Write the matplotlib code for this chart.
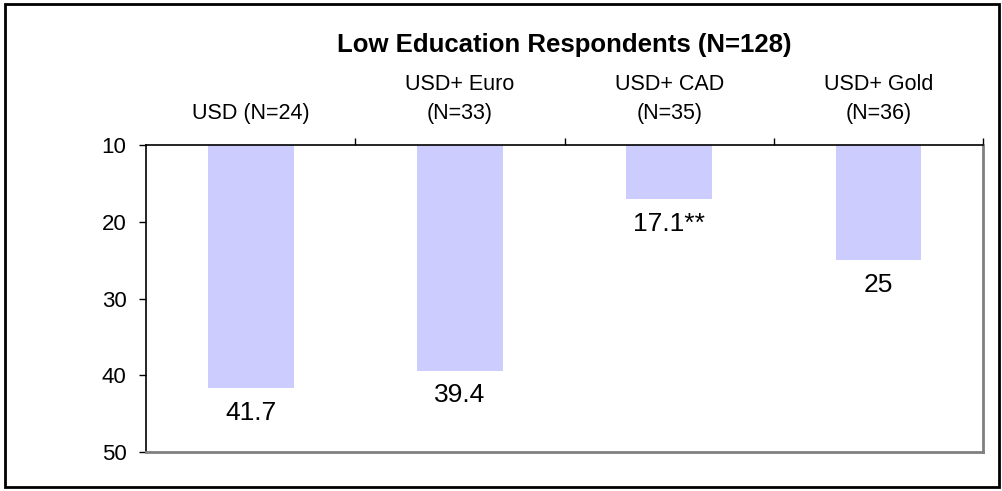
import numpy as np
import matplotlib.pyplot as plt
from matplotlib.patches import Rectangle

plt.rcParams['font.family'] = ['Liberation Sans', 'DejaVu Sans']

# Data
groups = ["USD (N=24)", "USD+ Euro\n(N=33)", "USD+ CAD\n(N=35)", "USD+ Gold\n(N=36)"]
values = [41.7, 39.4, 17.1, 25.0]
value_labels = ["41.7", "39.4", "17.1**", "25"]
base = 10
title = "Low Education Respondents (N=128)"

fig = plt.figure(figsize=(10.03, 4.91), dpi=100)
ax = fig.add_axes([0.1456, 0.0794, 0.8345, 0.6253])

x = np.arange(len(values))
heights = np.array(values) - base
ax.bar(x, heights, bottom=base, width=0.41, color="#CCCCFF", zorder=2)

# Value labels under each bar end
for xi, v, lab in zip(x, values, value_labels):
    ax.annotate(lab, (xi, v), xytext=(0, -9), textcoords="offset points",
                ha="center", va="top", fontsize=19)

# Inverted y axis, bars hang from the top
ax.set_ylim(50, base)
ax.set_xlim(-0.5, len(values) - 0.5)
ax.set_yticks([10, 20, 30, 40, 50])
ax.tick_params(axis="y", direction="out", length=5, width=1, pad=9, labelsize=16)

# Category labels on top
ax.xaxis.tick_top()
ax.set_xticks(x)
ax.set_xticklabels(groups, fontsize=15.5, linespacing=1.5)
ax.set_xticks(np.arange(len(values)) + 0.5, minor=True)
ax.tick_params(axis="x", which="major", length=0, pad=15)
ax.tick_params(axis="x", which="minor", direction="out", length=5, width=1, top=True, bottom=False)

# Spines
ax.spines["top"].set_color("black")
ax.spines["left"].set_color("black")
ax.spines["top"].set_linewidth(1.2)
ax.spines["left"].set_linewidth(1.2)
ax.spines["right"].set_color("#808080")
ax.spines["bottom"].set_color("#808080")
ax.spines["right"].set_linewidth(2)
ax.spines["bottom"].set_linewidth(2)

# Title
fig.text(0.5625, 0.908, title, ha="center", va="center", fontsize=18.5, fontweight="bold")

# Outer border
fig.patches.append(Rectangle((0.005, 0.008), 0.991, 0.984, transform=fig.transFigure,
                             fill=False, edgecolor="black", linewidth=2))

fig.savefig("out.png", dpi=100)
